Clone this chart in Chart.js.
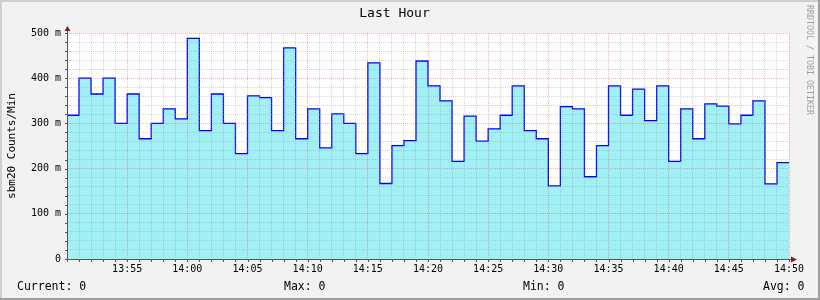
<!DOCTYPE html>
<html>
<head>
<meta charset="utf-8">
<title>Last Hour</title>
<script src="https://cdn.jsdelivr.net/npm/chart.js@4.4.1/dist/chart.umd.min.js"></script>
<style>
    body { margin: 0; background: #f2f2f2; }
    #caja { position: relative; width: 820px; height: 300px; }
    #grafica { display: block; }
    .resumen { position: absolute; top: 279px; font: 11.5px "DejaVu Sans Mono", monospace; line-height: 14px; color: #000; white-space: pre; }
    #marca { position: absolute; left: 805px; top: 5px; writing-mode: vertical-rl; font: 8.3px "DejaVu Sans Mono", monospace; line-height: 10px; color: #a0a0a0; white-space: pre; }
</style>
</head>
<body>
<div id="caja">
    <canvas id="grafica" width="820" height="300"></canvas>
    <div id="marca">RRDTOOL / TOBI OETIKER</div>
</div>
<script>
// cuentas por minuto (en milis), un valor por minuto desde las 13:50
const cuentas = [
    318, 400, 365, 400, 300, 365, 266, 300, 332, 310,
    488, 284, 365, 300, 233, 361, 357, 284, 467, 266,
    332, 246, 321, 300, 233, 434, 167, 251, 262, 438,
    383, 350, 216, 316, 261, 288, 318, 383, 284, 266,
    162, 337, 332, 182, 251, 383, 318, 376, 306, 383,
    216, 332, 266, 343, 338, 299, 318, 350, 166, 213
];
const etiquetasX = ['13:55', '14:00', '14:05', '14:10', '14:15', '14:20',
                    '14:25', '14:30', '14:35', '14:40', '14:45', '14:50'];
const etiquetasY = ['0', '100 m', '200 m', '300 m', '400 m', '500 m'];
const resumen = ['Current: 0', 'Max: 0', 'Min: 0', 'Avg: 0'];

const mono = 'DejaVu Sans Mono';
const menor = 'rgba(150, 150, 150, 0.4)';
const mayor = 'rgba(230, 60, 60, 0.38)';

// texto de abajo
const posResumen = [17, 284, 523, 763];
resumen.forEach((txt, i) => {
    const d = document.createElement('div');
    d.className = 'resumen';
    d.style.left = posResumen[i] + 'px';
    d.textContent = txt;
    document.getElementById('caja').appendChild(d);
});

// escalones: cada valor dura un minuto, el ultimo se alarga hasta el final
const puntos = cuentas.map((v, i) => ({ x: i, y: v }));
puntos.push({ x: cuentas.length, y: cuentas[cuentas.length - 1] });

const fondo = {
    id: 'fondo',
    beforeDraw(chart) {
        const ctx = chart.ctx;
        const a = chart.chartArea;
        const w = chart.width, h = chart.height;
        ctx.save();
        ctx.fillStyle = '#f2f2f2';
        ctx.fillRect(0, 0, w, h);
        ctx.fillStyle = '#cfcfcf';
        ctx.fillRect(0, 0, w, 2);
        ctx.fillRect(0, 0, 2, h);
        ctx.fillStyle = '#9e9e9e';
        ctx.fillRect(0, h - 2, w, 2);
        ctx.fillRect(w - 2, 0, 2, h);
        ctx.fillStyle = '#ffffff';
        ctx.fillRect(a.left, a.top, a.right - a.left, a.bottom - a.top);
        ctx.restore();
    }
};

const ejes = {
    id: 'ejes',
    afterDraw(chart) {
        const ctx = chart.ctx;
        const a = chart.chartArea;
        const x = chart.scales.x, y = chart.scales.y;
        ctx.save();
        ctx.strokeStyle = '#555555';
        ctx.lineWidth = 1;
        ctx.beginPath();
        ctx.moveTo(a.left + 0.5, a.bottom + 1);
        ctx.lineTo(a.left + 0.5, a.top - 3);
        ctx.moveTo(a.left, a.bottom + 0.5);
        ctx.lineTo(a.right + 3, a.bottom + 0.5);
        y.ticks.forEach(t => {
            const py = Math.round(y.getPixelForValue(t.value)) + 0.5;
            ctx.moveTo(a.left - 2, py);
            ctx.lineTo(a.left, py);
        });
        x.ticks.forEach(t => {
            const px = Math.round(x.getPixelForValue(t.value)) + 0.5;
            ctx.moveTo(px, a.bottom);
            ctx.lineTo(px, a.bottom + 3);
        });
        ctx.stroke();
        // flechas
        ctx.fillStyle = '#801f1f';
        ctx.beginPath();
        ctx.moveTo(a.left + 0.5, a.top - 7);
        ctx.lineTo(a.left - 2.5, a.top - 2);
        ctx.lineTo(a.left + 3.5, a.top - 2);
        ctx.closePath();
        ctx.moveTo(a.right + 8, a.bottom + 0.5);
        ctx.lineTo(a.right + 2, a.bottom - 2.5);
        ctx.lineTo(a.right + 2, a.bottom + 3.5);
        ctx.closePath();
        ctx.fill();
        ctx.restore();
    }
};

new Chart(document.getElementById('grafica'), {
    type: 'line',
    data: {
        datasets: [{
            data: puntos,
            stepped: 'before',
            borderColor: '#0000ff',
            borderWidth: 1.3,
            backgroundColor: 'rgb(160, 240, 245)',
            fill: 'origin',
            pointRadius: 0
        }]
    },
    options: {
        responsive: false,
        animation: false,
        layout: { padding: { left: 0, right: 31, top: 0, bottom: 0 } },
        plugins: {
            legend: { display: false },
            tooltip: { enabled: false },
            title: {
                display: true,
                text: 'Last Hour',
                color: '#000',
                font: { family: mono, size: 13, weight: 'normal' },
                padding: { top: 6, bottom: 11.4 }
            }
        },
        scales: {
            x: {
                type: 'linear',
                min: 0,
                max: 60,
                afterFit: s => { s.height = 41; },
                grid: {
                    z: 1,
                    color: c => c.tick.value % 5 === 0 ? mayor : menor,
                    drawTicks: false
                },
                border: { display: false, dash: [1, 1] },
                ticks: {
                    stepSize: 1,
                    maxTicksLimit: 100,
                    autoSkip: false,
                    maxRotation: 0,
                    padding: 4,
                    color: '#000',
                    font: { family: mono, size: 10 },
                    callback: v => (v % 5 === 0 && v > 0) ? etiquetasX[v / 5 - 1] : ''
                }
            },
            y: {
                min: 0,
                max: 500,
                afterFit: s => { s.width = 67; },
                grid: {
                    z: 1,
                    color: c => c.tick.value % 100 === 0 ? mayor : menor,
                    drawTicks: false
                },
                border: { display: false, dash: [1, 1] },
                ticks: {
                    stepSize: 20,
                    maxTicksLimit: 100,
                    autoSkip: false,
                    padding: 6,
                    color: '#000',
                    font: { family: mono, size: 10 },
                    callback: v => v % 100 === 0 ? etiquetasY[v / 100] : ''
                },
                title: {
                    display: true,
                    text: 'sbm20 Counts/Min',
                    color: '#000',
                    font: { family: mono, size: 11 },
                    padding: { top: 5.2, bottom: 0 }
                }
            }
        }
    },
    plugins: [fondo, ejes]
});
</script>
</body>
</html>
